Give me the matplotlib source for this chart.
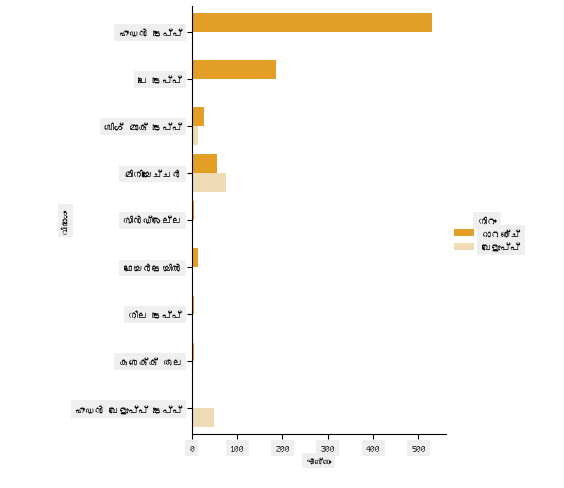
import matplotlib
matplotlib.use("Agg")
import matplotlib.pyplot as plt
from matplotlib import font_manager
from matplotlib.ft2font import FT2Font
import numpy as np

categories = ["ഹൗഡൻ ടൈപ്പ്", "പൈ ടൈപ്പ്", "ബിഗ് മാക് ടൈപ്പ്", "മിനിയേച്ചർ", "സിൻഡ്രെല്ല",
              "ഫെയർടെയിൽ", "നീല ടൈപ്പ്", "കണക്ക് തല", "ഹൗഡൻ വെളുപ്പ് ടൈപ്പ്"]
orange = [530, 185, 28, 55, 5, 14, 5, 5, 0]
white = [0, 2, 14, 75, 2, 3, 0, 0, 48]
series_labels = ["ഓറഞ്ച്", "വെളുപ്പ്"]

# look for any installed font that carries Malayalam glyphs
families = []
for f in font_manager.fontManager.ttflist:
    try:
        if ord("മ") in FT2Font(f.fname).get_charmap() and f.name not in families:
            families.append(f.name)
    except Exception:
        pass
plt.rcParams["font.family"] = families + ["Noto Sans", "DejaVu Sans"]
box = dict(facecolor="#efefef", edgecolor="none", pad=3)

fig = plt.figure(figsize=(5.64, 4.89), dpi=100)
ax = fig.add_axes([0.34, 0.11, 0.45, 0.875])
y = np.arange(len(categories))
h = 0.4
ax.barh(y - h / 2, orange, height=h, color="#e39e25", label=series_labels[0])
ax.barh(y + h / 2, white, height=h, color="#efdcb7", label=series_labels[1])
ax.set_yticks(y)
ax.set_yticklabels(categories, fontsize=7, bbox=box)
ax.set_ylim(len(categories) - 0.45, -0.55)
ax.set_xlim(0, 560)
ax.set_xticks([0, 100, 200, 300, 400, 500])
for t in ax.get_xticklabels():
    t.set_fontsize(7)
    t.set_bbox(box)
ax.set_xlabel("എണ്ണം", fontsize=6, bbox=box)
ax.set_ylabel("വിഭാഗം", fontsize=6, bbox=box)
for s in ["top", "right"]:
    ax.spines[s].set_visible(False)
leg = fig.legend(loc="center left", bbox_to_anchor=(0.79, 0.52), frameon=False,
                 title="നിറം", fontsize=7, title_fontsize=7)
for t in leg.get_texts() + [leg.get_title()]:
    t.set_bbox(box)
fig.savefig("out.png", dpi=100)
